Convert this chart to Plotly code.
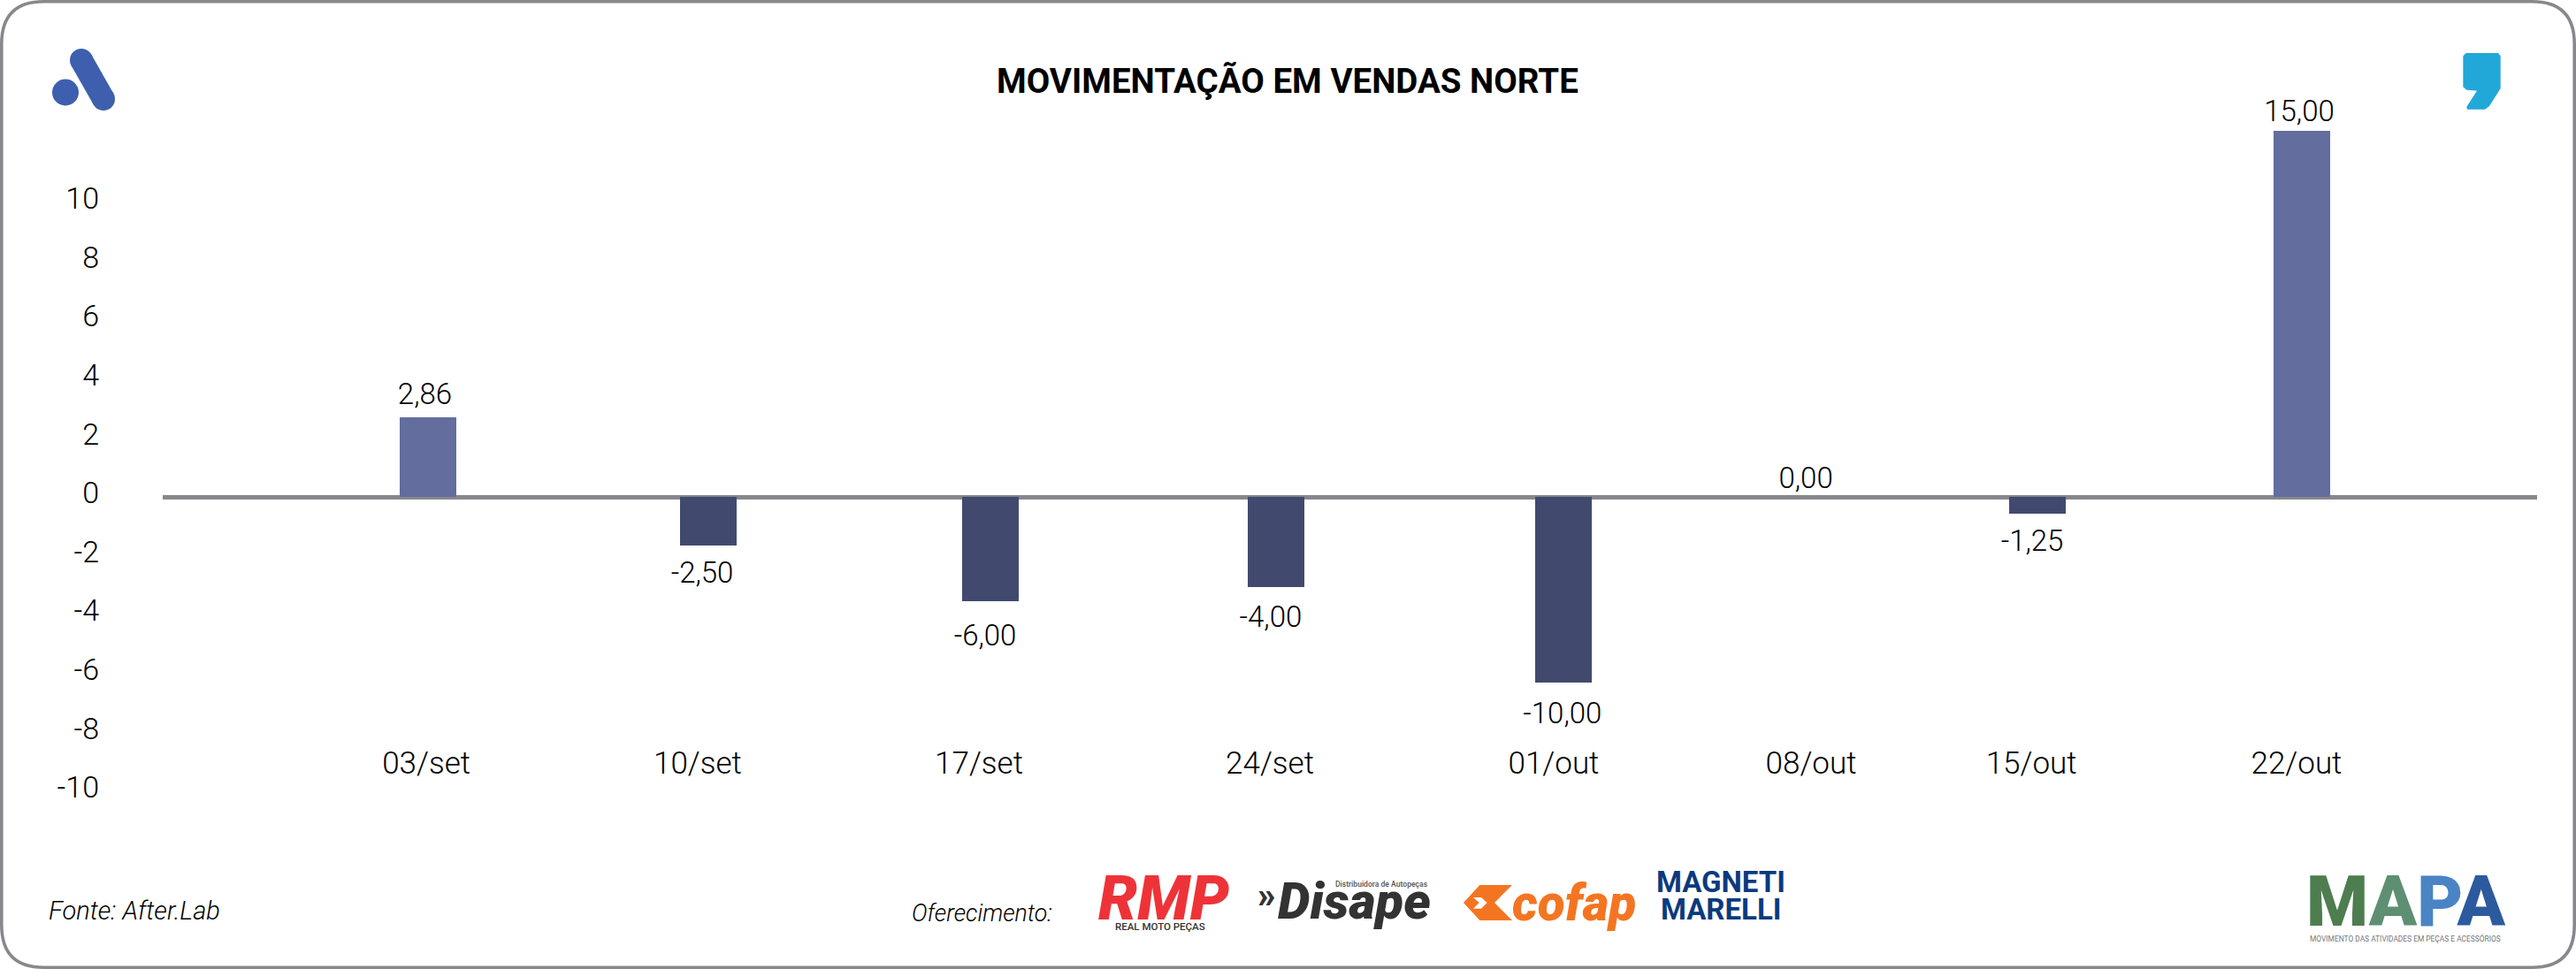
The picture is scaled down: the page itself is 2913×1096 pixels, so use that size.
import plotly.graph_objects as go

# Categories and printed labels
categories = ["03/set", "10/set", "17/set", "24/set", "01/out", "08/out", "15/out", "22/out"]
printed_labels = ["2,86", "-2,50", "-6,00", "-4,00", "-10,00", "0,00", "-1,25", "15,00"]
# Bar heights as they read against the drawn y axis (the source's bars do not follow its printed labels)
bar_heights = [2.70, -1.65, -3.54, -3.06, -6.31, 0.0, -0.57, 12.43]
# Positions in week units: the source places bars, labels and tick labels slightly apart
bar_weeks = [0.0, 0.991, 1.9875, 2.997, 4.011, 4.881, 5.6875, 6.622]
label_weeks = [-0.011, 0.969, 1.969, 2.978, 4.009, 4.869, 5.669, 6.6125]
tick_weeks = [-0.006, 0.953, 1.947, 2.975, 3.978, 4.8875, 5.666, 6.603]
label_levels = [3.39, -2.67, -4.80, -4.17, -7.45, 0.54, -1.59, 13.02]
y_ticks = [10, 8, 6, 4, 2, 0, -2, -4, -6, -8, -10]
y_tick_lift = 0.14  # the source prints its y labels a little above their gridline level

W, H = 2913, 1096
FONT = "Roboto"
POS = "#636D9E"
NEG = "#414A6E"
GREY = "#87888C"


def fx(x):
    return x / W


def fy(y):
    return 1 - y / H


def poly(points, color):
    d = "M " + " L ".join(f"{fx(x):.5f},{fy(y):.5f}" for x, y in points) + " Z"
    return dict(type="path", xref="paper", yref="paper", path=d,
                fillcolor=color, line=dict(width=0), layer="above")


def circle(cx, cy, r, color):
    return dict(type="circle", xref="paper", yref="paper",
                x0=fx(cx - r), x1=fx(cx + r), y0=fy(cy + r), y1=fy(cy - r),
                fillcolor=color, line=dict(width=0), layer="above")


def note(text, x, y, size, color="#000000", weight=400, style="normal", anchor="center", family=FONT):
    return dict(text=text, x=fx(x), y=fy(y), xref="paper", yref="paper", showarrow=False,
                xanchor=anchor, yanchor="middle", align="left", borderpad=0,
                font=dict(family=family, size=size, color=color, weight=weight, style=style))


fig = go.Figure()
fig.add_trace(go.Bar(x=bar_weeks, y=bar_heights, width=0.2,
                     marker=dict(color=[POS if v > 0 else NEG for v in bar_heights], line=dict(width=0)),
                     hoverinfo="skip", showlegend=False))
fig.add_trace(go.Scatter(x=label_weeks, y=label_levels, text=printed_labels, mode="text",
                         textposition="middle center",
                         textfont=dict(family=FONT, size=33, color="#000000", weight=300),
                         hoverinfo="skip", showlegend=False))

# Rounded border
i, r = 1.8, 48
x0, x1, y0, y1 = fx(i), fx(W - i), fy(i), fy(H - i)
rx, ry = r / W, r / H
border = (f"M {x0+rx},{y0} L {x1-rx},{y0} Q {x1},{y0} {x1},{y0-ry} L {x1},{y1+ry} "
          f"Q {x1},{y1} {x1-rx},{y1} L {x0+rx},{y1} Q {x0},{y1} {x0},{y1+ry} L {x0},{y0-ry} "
          f"Q {x0},{y0} {x0+rx},{y0} Z")
shapes = [dict(type="path", xref="paper", yref="paper", path=border,
               line=dict(color=GREY, width=3.6), fillcolor="rgba(0,0,0,0)", layer="below")]

# A logo
BLUE = "#3E5FAE"
shapes += [poly([(80.5, 74), (103.5, 62), (128.5, 106), (105.5, 118)], BLUE),
           circle(92, 68, 13, BLUE), circle(117, 112, 13, BLUE), circle(74, 104.5, 15, BLUE)]
# Comma logo
comma = [(856, 190), (866, 180), (975, 180), (983, 190), (983, 300), (945, 360), (930, 371),
         (870, 371), (868, 362), (903, 308), (868, 305), (856, 295)]
shapes.append(poly([(2500 + a / 3, b / 3) for a, b in comma], "#22A7D9"))
# Cofap symbol
cof = [(45, 183), (100, 123), (210, 123), (150, 183), (210, 243), (100, 243)]
shapes.append(poly([(1640 + a / 3, 960 + b / 3) for a, b in cof], "#F47521"))
cof_in = [(78, 165), (105, 165), (125, 183), (105, 203), (78, 203), (98, 183)]
shapes.append(poly([(1640 + a / 3, 960 + b / 3) for a, b in cof_in], "#FFFFFF"))

annotations = [
    note("MOVIMENTAÇÃO EM VENDAS NORTE", 1456, 91, 38.5, weight=700),
    note("Fonte: After.Lab", 54, 1030, 29, weight=300, style="italic", anchor="left"),
    note("Oferecimento:", 1030, 1033, 26.7, weight=300, style="italic", anchor="left"),
    note("RMP", 1316, 1016, 70, "#EE3338", 900, "italic"),
    note("REAL MOTO PEÇAS", 1312, 1048, 11.5, "#333333", 500),
    note("»", 1432, 1012, 40, "#333333", 900),
    note("Disape", 1531, 1019, 58, "#333333", 900, "italic"),
    note("Distribuidora de Autopeças", 1562, 1000, 8.6, "#555555", 500),
    note("cofap", 1780, 1021, 57, "#F47521", 900, "italic"),
    note("MAGNETI", 1946, 997, 33, "#0A3A7E", 700),
    note("MARELLI", 1946, 1028, 33, "#0A3A7E", 700),
    note('<span style="color:#4E7D50">M</span><span style="color:#5F8F72">A</span>'
         '<span style="color:#4A84C4">P</span><span style="color:#2D5A9E">A</span>',
         2720, 1020, 80, weight=900),
    note("MOVIMENTO DAS ATIVIDADES EM PEÇAS E ACESSÓRIOS", 2720, 1061, 8.4, "#777777", 400),
]

PLOT_TOP, PLOT_BOTTOM = 100, 900
fig.update_layout(
    width=W, height=H, margin=dict(l=0, r=0, t=0, b=0, autoexpand=False),
    paper_bgcolor="#FFFFFF", plot_bgcolor="rgba(0,0,0,0)", showlegend=False,
    shapes=shapes, annotations=annotations, bargap=0,
    xaxis=dict(domain=[184 / W, 2869 / W], range=[(184 - 484) / 320, (2869 - 484) / 320],
               anchor="free", position=fy(839), tickmode="array", tickvals=tick_weeks,
               ticktext=categories, tickfont=dict(family=FONT, size=35, color="#000000", weight=300),
               showgrid=False, zeroline=False, showline=False, ticks=""),
    yaxis=dict(domain=[fy(PLOT_BOTTOM), fy(PLOT_TOP)], range=[(562 - PLOT_BOTTOM) / 33.3, (562 - PLOT_TOP) / 33.3],
               tickmode="array", tickvals=[v + y_tick_lift for v in y_ticks], ticktext=[str(v) for v in y_ticks],
               tickfont=dict(family=FONT, size=34, color="#000000", weight=300),
               showgrid=False, showline=False, ticks="", ticklabelstandoff=71,
               zeroline=True, zerolinecolor=GREY, zerolinewidth=4.5),
)
fig.write_html("out.html", config={"displayModeBar": False},
               post_script="document.body.style.margin='0';document.body.style.overflow='hidden';")
